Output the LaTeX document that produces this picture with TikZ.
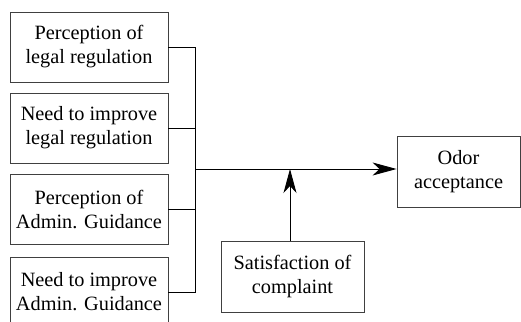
\documentclass[tikz,border=0pt]{standalone}
\usepackage{fontspec}
\setmainfont{Liberation Serif}
\usetikzlibrary{arrows.meta,positioning}

\tikzset{
    factor/.style={draw=black!75,line width=0.9pt,minimum width=158pt,minimum height=70pt,
        inner sep=0pt,align=center,font=\fontsize{20.3}{24}\selectfont},
    link/.style={line width=0.9pt},
    flow/.style={line width=0.9pt,-{Stealth[length=24pt,width=13pt,inset=7pt]}}
}

\begin{document}
\begin{tikzpicture}[x=1pt,y=-1pt]
    \useasboundingbox (0,0) rectangle (521,321);
    \clip (0,0) rectangle (521,321);

    % Input factors
    \node[factor] (legal) at (89,47) {Perception of\\legal regulation};
    \node[factor] (legalneed) at (89,128) {Need to improve\\legal regulation};
    \node[factor] (admin) at (89,209) {Perception of\\Admin. Guidance};
    \node[factor] (adminneed) at (89,292) {Need to improve\\Admin. Guidance};

    % Outcome and moderator
    \node[factor,minimum width=123pt,minimum height=71pt] (odor) at (458.5,171.5) {Odor\\acceptance};
    \node[factor,minimum width=143pt,minimum height=71pt] (complaint) at (292.5,276.5) {Satisfaction of\\complaint};

    % Junction of the inputs
    \coordinate (join) at (195,169);

    % Connectors
    \draw[link] (legal.east) -| (join);
    \draw[link] (legalneed.east) -| (join);
    \draw[link] (admin.east) -| (join);
    \draw[link] (adminneed.east) -| (join);
    \draw[flow] (join) -- (join -| odor.west);
    \draw[flow] (complaint.north -| 290,0) -- (join -| 290,0);
\end{tikzpicture}
\end{document}
